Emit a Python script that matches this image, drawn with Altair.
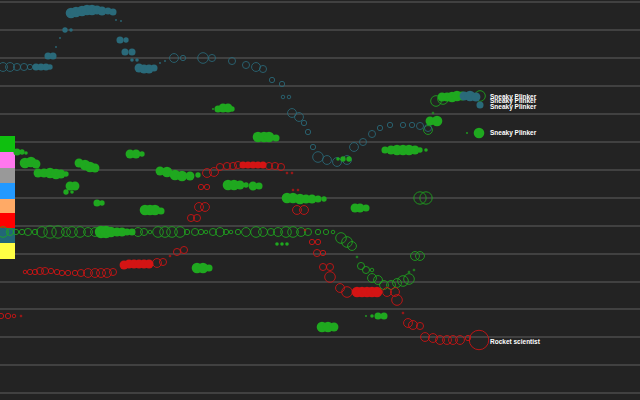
import altair as alt
import pandas as pd
import math

# ---- data (x = score, y = rank position; r = bubble radius; f = 1 filled / 0 hollow)
teal_points = [
    (3,67,5,0),(10,67,5,0),(17,67,4,0),(24,67,4,0),(30,67,3,0),
    (36,67,4,1),(41,67,4,1),(46,67,4,1),(50,67,3,1),
    (48,56,4,1),(53,56,4,1),(56,47,1,1),(60,38,1,1),
    (65,30,3,1),(71,30,2,1),
    (71,13,6,1),(76,12,6,1),(82,11,6,1),(87,10,6,1),(92,10,6,1),(97,10,5,1),
    (102,11,5,1),(108,11,4,1),(113,12,4,1),
    (116,20,1,1),(121,21,1,1),
    (120,40,4,1),(126,40,3,1),(125,52,4,1),(132,52,4,1),(132,60,2,1),(137,60,2,1),
    (139,68,5,1),(144,69,5,1),(149,69,5,1),(154,68,4,1),
    (160,63,1,1),(165,61,1,1),
    (174,58,5,0),(183,58,3,0),(203,58,6,0),(212,58,4,0),
    (232,61,4,0),(246,65,4,0),(256,67,5,0),(263,69,4,0),
    (272,80,3,0),(282,84,3,0),(283,97,2,0),(289,97,2,0),
    (292,113,5,0),(299,117,5,0),(304,123,3,0),(308,132,3,0),
    (313,147,3,0),(318,157,6,0),(327,160,5,0),(337,162,5,0),(347,160,5,0),
    (354,147,5,0),(363,142,4,0),(372,134,4,0),(380,128,3,0),(390,125,3,0),
    (403,125,3,0),(412,125,3,0),(420,126,4,0),(428,128,4,0),
    (464,96,5,1),(470,96,6,1),(476,97,5,1),(480,105,4,1),
]

green_trail_points = [
    (3,232,6,0),(10,232,4,0),(16,232,3,0),(22,232,3,0),(28,232,4,0),(35,232,3,0),
    (42,232,6,0),(50,232,7,0),(58,232,7,0),(66,232,5,0),(72,232,6,0),(80,232,6,0),
    (88,232,5,0),(95,232,5,0),
    (101,232,7,1),(106,232,7,1),(111,232,6,1),(117,232,5,1),(122,232,5,1),
    (127,232,4,1),(132,232,4,1),
    (138,232,5,0),(144,232,4,0),(150,232,2,0),(158,232,6,0),(165,232,6,0),
    (172,232,6,0),(180,232,6,0),(187,232,3,0),(195,232,4,0),(201,232,3,0),
    (206,232,2,0),(213,232,4,0),(220,232,5,0),(226,232,3,0),(231,232,2,0),
    (238,232,3,0),(246,232,5,0),(256,232,6,0),(263,232,5,0),(271,232,4,0),
    (278,232,5,0),(286,232,6,0),(293,232,6,0),(301,232,5,0),(308,232,4,0),
    (318,232,3,0),(326,232,3,0),(333,232,2,0),
    (341,238,6,0),(347,242,6,0),(352,246,5,0),(357,257,1,0),(361,266,4,0),
    (366,270,4,0),(372,270,2,0),(372,278,5,0),(378,280,5,0),(384,285,5,0),
    (391,285,5,0),(397,283,5,0),(403,281,6,0),(409,279,6,0),(409,272,1,0),
    (414,270,1,0),(415,256,5,0),(420,256,5,0),(420,198,7,0),(426,198,7,0),
    (428,130,5,0),(433,113,1,0),(436,101,6,0),(443,99,6,0),
    (442,97,5,1),(447,97,5,1),(452,97,6,1),(457,96,6,1),(462,96,5,1),
    (480,96,6,0),
]

green_cluster_points = [
    (17,152,4,1),(22,152,3,1),(26,153,2,1),
    (25,163,6,1),(31,162,6,1),(36,164,5,1),
    (38,173,5,1),(44,173,5,1),(50,173,6,1),(56,174,6,1),(61,174,5,1),(66,174,3,1),
    (79,163,5,1),(85,165,6,1),(90,167,6,1),(95,168,5,1),
    (130,154,5,1),(136,154,5,1),(142,154,3,1),
    (70,186,5,1),(75,186,5,1),(66,192,3,1),(72,192,2,1),
    (97,203,4,1),(102,203,3,1),
    (145,210,6,1),(150,210,6,1),(155,210,6,1),(161,211,4,1),
    (160,171,5,1),(167,172,6,1),(175,175,6,1),(182,176,6,1),(190,176,5,1),(198,175,3,1),
    (213,109,1,1),(218,109,4,1),(223,108,5,1),(228,108,5,1),(232,109,3,1),
    (258,137,6,1),(264,137,6,1),(269,137,6,1),(276,138,4,1),
    (228,185,6,1),(234,185,6,1),(240,185,5,1),(246,185,3,1),(253,186,5,1),(259,186,4,1),
    (287,198,6,1),(293,198,6,1),(300,199,6,1),(306,199,5,1),(312,199,5,1),
    (318,199,4,1),(324,199,3,1),
    (355,208,5,1),(360,208,5,1),(366,208,4,1),
    (338,159,2,1),(343,159,3,1),(349,159,3,1),
    (385,150,4,1),(391,150,5,1),(397,150,6,1),(403,150,6,1),(409,150,6,1),
    (415,150,5,1),(420,150,3,1),(426,150,2,1),
    (430,121,5,1),(437,121,6,1),
    (467,133,1,1),(479,133,6,1),
    (322,327,6,1),(328,327,6,1),(334,327,5,1),
    (366,316,1,1),(372,316,2,1),(378,316,4,1),(384,316,4,1),
    (197,268,6,1),(203,268,6,1),(209,268,4,1),
    (277,244,2,1),(282,244,2,1),(287,244,2,1),
]

red_points = [
    (1,316,3,0),(8,316,3,0),(14,316,2,0),(21,316,1,0),
    (25,272,2,0),(30,272,3,0),(35,272,3,0),(40,271,4,0),(45,271,4,0),(51,271,3,0),
    (57,272,3,0),(62,273,3,0),(68,273,3,0),(75,273,3,0),(81,273,4,0),(88,273,5,0),
    (95,273,5,0),(101,273,5,0),(107,273,5,0),(113,272,4,0),
    (124,265,5,1),(129,264,5,1),(134,264,5,1),(139,264,5,1),(144,264,5,1),(149,264,5,1),
    (157,263,5,0),(163,262,4,0),(170,256,1,0),(177,252,4,0),(184,250,4,0),
    (191,218,4,0),(197,218,4,0),(199,207,5,0),(205,207,5,0),
    (201,187,3,0),(207,187,3,0),
    (207,173,5,0),(214,172,5,0),(220,167,4,0),(227,166,4,0),(233,166,4,0),(238,165,4,0),
    (243,165,4,1),(248,165,4,1),(253,165,4,1),(258,165,4,1),(263,165,4,1),
    (269,166,4,0),(275,166,4,0),(281,167,4,0),(287,173,1,0),(292,173,1,0),
    (297,210,5,0),(304,210,5,0),(293,190,1,0),(298,190,1,0),
    (305,230,1,0),(312,242,3,0),(318,242,3,0),(317,253,4,0),(323,253,3,0),
    (323,267,4,0),(330,267,4,0),(330,277,6,0),(340,288,5,0),(347,292,6,0),
    (357,292,6,1),(362,292,6,1),(367,292,6,1),(372,292,6,1),(377,292,6,1),
    (387,292,5,0),(395,292,5,0),(397,300,6,0),(403,313,1,0),(408,323,5,0),
    (413,325,5,0),(420,326,4,0),(425,337,5,0),(433,338,5,0),(440,340,5,0),
    (447,340,5,0),(453,340,5,0),(460,340,5,0),(468,338,3,0),(479,340,11,0),
]

label_texts = ["Sneaky Plinker", "Sneaky Plinker", "Sneaky Plinker", "Sneaky Plinker", "Rocket scientist"]
label_x = [490, 490, 490, 490, 490]
label_y = [97, 101, 107, 133, 342]

legend_colors = ["#0fbf0f", "#ff77ee", "#999999", "#2299ff", "#ffaa66", "#ff0000", "#226677", "#ffff44"]
legend_top = [136, 152, 168, 183, 199, 213, 228, 243]
legend_bottom = [152, 168, 183, 199, 213, 228, 243, 259]

gridlines = [2, 30, 58, 86, 114, 142, 170, 198, 226, 254, 282, 309, 337, 365, 393]

series_names = ["green_cluster", "green_trail", "red", "teal"]
fill_colors = ["#22cc22", "#22cc22", "#ff0000", "#2a8092"]
stroke_colors = ["#1fa81f", "#1fa81f", "#d41414", "#2a6a7a"]

rows = []
for name, pts in [("green_cluster", green_cluster_points), ("green_trail", green_trail_points),
                  ("red", red_points), ("teal", teal_points)]:
    for i, (x, y, r, f) in enumerate(pts):
        rows.append({"x": x, "y": y, "area": math.pi * r * r, "filled": f, "series": name, "order": len(rows)})
df = pd.DataFrame(rows)

xs = alt.Scale(domain=[0, 640], nice=False, zero=False)
ys = alt.Scale(domain=[0, 400], nice=False, zero=False, reverse=True)

grid = alt.Chart(pd.DataFrame({"y": gridlines})).mark_rule(color="#4c4c4c", strokeWidth=1.5).encode(
    y=alt.Y("y:Q", scale=ys, axis=None)
)

legend = alt.Chart(pd.DataFrame({"c": legend_colors, "y0": legend_top, "y1": legend_bottom,
                                 "x0": [0] * 8, "x1": [15] * 8})).mark_rect().encode(
    x=alt.X("x0:Q", scale=xs, axis=None), x2="x1:Q",
    y=alt.Y("y0:Q", scale=ys, axis=None), y2="y1:Q",
    color=alt.Color("c:N", scale=None, legend=None),
)

hollow = alt.Chart(df[df.filled == 0]).mark_point(shape="circle", filled=False, strokeWidth=1, opacity=0.85).encode(
    x=alt.X("x:Q", scale=xs, axis=None),
    y=alt.Y("y:Q", scale=ys, axis=None),
    size=alt.Size("area:Q", scale=None, legend=None),
    color=alt.Color("series:N", scale=alt.Scale(domain=series_names, range=stroke_colors), legend=None),
    order=alt.Order("order:Q"),
)

solid = alt.Chart(df[df.filled == 1]).mark_circle(opacity=1).encode(
    x=alt.X("x:Q", scale=xs, axis=None),
    y=alt.Y("y:Q", scale=ys, axis=None),
    size=alt.Size("area:Q", scale=None, legend=None),
    color=alt.Color("series:N", scale=alt.Scale(domain=series_names, range=fill_colors), legend=None),
    order=alt.Order("order:Q"),
)

labels = alt.Chart(pd.DataFrame({"t": label_texts, "x": label_x, "y": label_y})).mark_text(
    align="left", baseline="middle", fontSize=6.5, fontWeight="bold", font="Liberation Sans", color="#ffffff"
).encode(
    x=alt.X("x:Q", scale=xs, axis=None),
    y=alt.Y("y:Q", scale=ys, axis=None),
    text="t:N",
)

chart = alt.layer(grid, legend, hollow, solid, labels).properties(
    width=640, height=400, padding=0, autosize="none", background="#232323"
).configure_view(stroke=None)

chart.save("out.html", embed_options={"renderer": "svg", "actions": False})
